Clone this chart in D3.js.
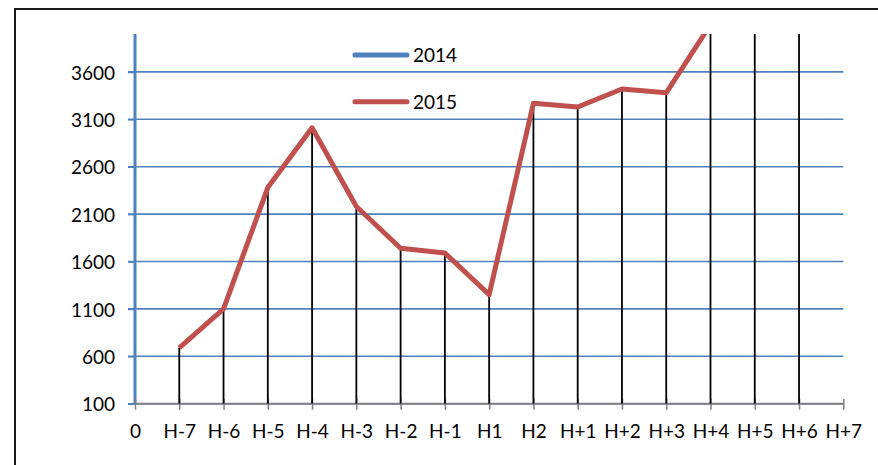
<!DOCTYPE html>
<html>
<head>
<meta charset="utf-8">
<script src="https://cdn.jsdelivr.net/npm/d3@7"></script>
<style>
  body { margin: 0; background: #fff; }
  svg { display: block; font-family: Lato, "Liberation Sans", sans-serif; }
</style>
</head>
<body>
<svg id="chart" width="878" height="465"></svg>
<script>
// x categories (index 0 .. 16)
const categories = ["0", "H-7", "H-6", "H-5", "H-4", "H-3", "H-2", "H-1", "H1", "H2",
    "H+1", "H+2", "H+3", "H+4", "H+5", "H+6", "H+7"];

// series values, one per category from H-7 on
const series2014 = [];
const series2015 = [690, 1100, 2380, 3010, 2180, 1740, 1690, 1250, 3270, 3230, 3420, 3380, 4100, 4400, 4600];

const yTicks = [100, 600, 1100, 1600, 2100, 2600, 3100, 3600];
const yDomain = [100, 4000];
const seriesNames = ["2014", "2015"];

const colors = ['#4F81BD', '#C0504D'];

const svg = d3.select("#chart");

// outer frame (runs off the right and bottom of the picture)
svg.append("rect")
    .attr("x", 15)
    .attr("y", 9)
    .attr("width", 900)
    .attr("height", 500)
    .attr("fill", "none")
    .attr("stroke", "#1a1a1a")
    .attr("stroke-width", 2);

const plot = { left: 135, right: 843.3, top: 34, bottom: 403.7 };

const x = d3.scaleLinear()
    .domain([0, categories.length - 1])
    .range([plot.left, plot.right]);

const y = d3.scaleLinear()
    .domain(yDomain)
    .range([plot.bottom, plot.top]);

svg.append("clipPath")
    .attr("id", "clip")
    .append("rect")
    .attr("x", plot.left)
    .attr("y", plot.top)
    .attr("width", plot.right - plot.left)
    .attr("height", plot.bottom - plot.top);

// gridlines
svg.append("g")
    .selectAll("line")
    .data(yTicks)
    .join("line")
    .attr("x1", plot.left - 7)
    .attr("x2", plot.right)
    .attr("y1", d => y(d))
    .attr("y2", d => y(d))
    .attr("stroke", colors[0])
    .attr("stroke-width", 1.6);

// Y axis
const yAxis = svg.append("g")
    .attr("transform", `translate(${plot.left},0)`)
    .call(d3.axisLeft(y)
        .tickValues(yTicks)
        .tickFormat(d3.format("d"))
        .tickSize(7)
        .tickPadding(13));
yAxis.select(".domain")
    .attr("d", `M0,${plot.top}V${plot.bottom}`)
    .attr("stroke", colors[0])
    .attr("stroke-width", 3);
yAxis.selectAll(".tick line").attr("stroke", colors[0]).attr("stroke-width", 1.6);
yAxis.selectAll(".tick text")
    .attr("dy", "0.38em")
    .attr("fill", "#000")
    .style("font-size", "19px")
    .style("font-family", "Lato, 'Liberation Sans', sans-serif");

// X axis
const xAxis = svg.append("g")
    .attr("transform", `translate(0,${plot.bottom})`)
    .call(d3.axisBottom(x)
        .tickValues(d3.range(categories.length))
        .tickFormat(i => categories[i])
        .tickSize(6)
        .tickPadding(15));
xAxis.select(".domain")
    .attr("d", `M${plot.left},0H${plot.right}`)
    .attr("stroke", "#808080")
    .attr("stroke-width", 2);
xAxis.selectAll(".tick line")
    .attr("y1", -5)
    .attr("stroke", "#808080")
    .attr("stroke-width", 1.5);
xAxis.selectAll(".tick text")
    .attr("fill", "#000")
    .style("font-size", "19px")
    .style("font-family", "Lato, 'Liberation Sans', sans-serif");

// drop lines + series, clipped to the plot area
const data = series2015.map((v, i) => ({ index: i + 1, value: v }));
const data2014 = series2014.map((v, i) => ({ index: i + 1, value: v }));

const marks = svg.append("g").attr("clip-path", "url(#clip)");

marks.selectAll("line.drop")
    .data(data)
    .join("line")
    .attr("class", "drop")
    .attr("x1", d => x(d.index))
    .attr("x2", d => x(d.index))
    .attr("y1", d => y(d.value))
    .attr("y2", plot.bottom)
    .attr("stroke", "#000")
    .attr("stroke-width", 1.8);

const line = d3.line()
    .x(d => x(d.index))
    .y(d => y(d.value));

[data2014, data].forEach((points, i) => {
    if (!points.length) return;
    marks.append("path")
        .datum(points)
        .attr("fill", "none")
        .attr("stroke", colors[i])
        .attr("stroke-width", 5)
        .attr("stroke-linejoin", "round")
        .attr("d", line);
});

// legend
const legend = svg.append("g");
seriesNames.forEach((name, i) => {
    const row = legend.append("g")
        .attr("transform", `translate(353, ${55 + i * 46.7})`);
    row.append("line")
        .attr("x1", 2)
        .attr("x2", 54)
        .attr("stroke", colors[i])
        .attr("stroke-width", 5)
        .attr("stroke-linecap", "round");
    row.append("text")
        .attr("x", 60)
        .attr("y", 7)
        .attr("fill", "#000")
        .style("font-size", "19px")
        .text(name);
});
</script>
</body>
</html>
